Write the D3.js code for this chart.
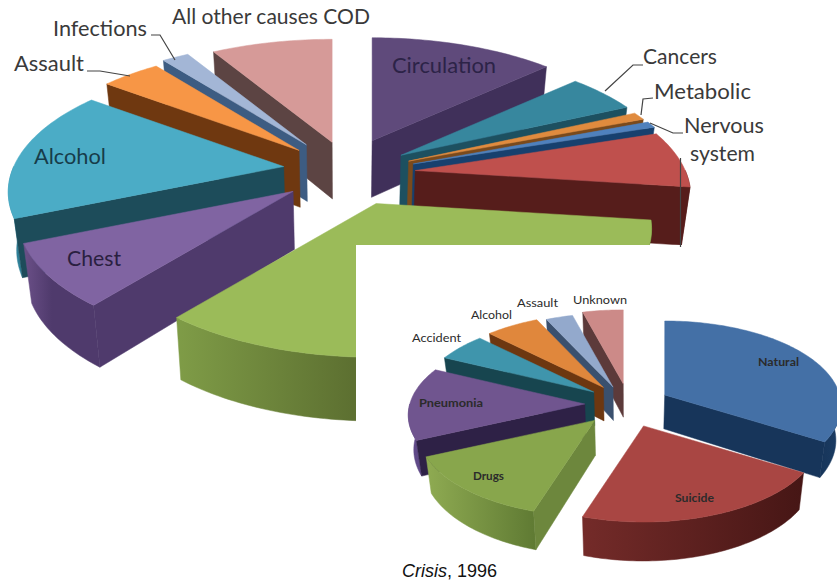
<!DOCTYPE html>
<html>
<head>
<meta charset="utf-8">
<script src="https://cdn.jsdelivr.net/npm/d3@7"></script>
<style>
  html, body { margin: 0; padding: 0; background: #fff; overflow: hidden; }
  svg { display: block; }
  .outer-label { font-family: Lato, sans-serif; fill: #3a3a3a; }
  .inset-label { font-family: Lato, sans-serif; fill: #2b2b2b; }
  .leader { fill: none; stroke: #444; stroke-width: 1.2; }
  .caption { font-family: "Liberation Sans", Arial, sans-serif; font-size: 18px; fill: #111; }
</style>
</head>
<body>
<div id="chart"></div>
<script>
// main pie, slice shares in percent (red and green have no label there)
const mainCategories = ["Circulation", "Cancers", "Metabolic", "Nervous system", "(red)", "(green)", "Chest", "Alcohol", "Assault", "Infections", "All other causes COD"];
const mainValues = [13.1, 5, 1, 0.8, 7.2, 33.7, 7.9, 16.7, 4.2, 1.9, 8.6];

// inset pie
const insetCategories = ["Natural", "Suicide", "Drugs", "Pneumonia", "Accident", "Alcohol", "Assault", "Unknown"];
const insetValues = [33.8, 21.2, 13.3, 13.9, 5.3, 5.6, 2.8, 4.2];

// how far each slice is pulled out of the pie and in which direction (degrees, 0 = back)
const mainExplode = [0.27, 0.245, 0.25, 0.26, 0.26, 0.28, 0.25, 0.23, 0.24, 0.26, 0.24];
const mainExplodeDir = [23, 60, 73, 79, 91, 157, 228, 277, 313, 325, 348];
const insetExplode = [0.22, 0.31, 0.30, 0.25, 0.22, 0.21, 0.18, 0.20];
const insetExplodeDir = [74, 164, 218, 259, 296, 317, 331, 352];

// slice colours: top face, flat side wall, curved rim from left to right
const mainTop = ["#5f4a7b", "#37879e", "#e08b3e", "#4f81bd", "#bf504d", "#9bbb59", "#8064a2", "#4bacc6", "#f79646", "#a3b6d6", "#d69a98"];
const mainWall = ["#40305a", "#1d5060", "#7a4a1c", "#17406e", "#561d1b", "#5f7534", "#4f3a6c", "#1d4c5a", "#6f3810", "#3d5c82", "#5c4443"];
const mainRimL = ["#40305a", "#1d5060", "#7a4a1c", "#17406e", "#5c1f1d", "#7f9c47", "#6b5088", "#3a9ab5", "#6f3810", "#3d5c82", "#5c4443"];
const mainRimR = ["#40305a", "#1d5060", "#7a4a1c", "#17406e", "#561d1b", "#5d7031", "#4f3a6c", "#2f8098", "#6f3810", "#3d5c82", "#5c4443"];

const insetTop = ["#4470a6", "#a94643", "#88a64c", "#70558f", "#3f95ac", "#e0873c", "#93a9cc", "#cc8a88"];
const insetWall = ["#17355a", "#4a1716", "#6d873d", "#2e2146", "#17454f", "#6d3710", "#3a506e", "#5c3a3a"];
const insetRimL = ["#17355a", "#742b29", "#8fab52", "#604a88", "#17454f", "#6d3710", "#3a506e", "#5c3a3a"];
const insetRimR = ["#1b3c63", "#461615", "#5f7a33", "#604a88", "#17454f", "#6d3710", "#3a506e", "#5c3a3a"];

// text around the pies
const mainLabelText = ["All other causes COD", "Infections", "Assault", "Alcohol", "Chest", "Circulation", "Cancers", "Metabolic", "Nervous", "system"];
const insetLabelText = ["Natural", "Suicide", "Drugs", "Pneumonia", "Accident", "Alcohol", "Assault", "Unknown"];

const width = 837, height = 587;

// geometry of each pie: centre, radii, perspective, thickness and how it changes towards the viewer
const mainPie = {cx: 345, cy: 170, rx: 270, ry: 123.4, k: 0.198, depth: 57.5, grow: 0.07, shrink: 0.025, rimEnd: "37%"};
const insetPie = {cx: 628, cy: 400, rx: 175, ry: 83.6, k: 0.13, depth: 34, grow: 0.1, shrink: 0.025, rimEnd: "100%"};

// label placement: x, baseline, width, colour
const mainLabelPos = [
  [172, 24, 198, "#3a3a3a"], [53, 36, 94, "#3a3a3a"], [14, 71, 70, "#3a3a3a"],
  [34, 164, 72, "#173c4a"], [67, 266, 54, "#2a1f40"], [392, 73, 104, "#2c2347"],
  [643, 64, 74, "#3a3a3a"], [654, 99, 97, "#3a3a3a"], [684, 133, 80, "#3a3a3a"], [690, 161, 65, "#3a3a3a"]
];
const insetLabelPos = [
  [758, 366, 41, true], [675, 502, 39, true], [473, 480, 31, true], [419, 407, 64, true],
  [412, 342, 49, false], [471, 319, 41, false], [517, 307, 41, false], [573, 304, 54, false]
];

// leader lines from the labels to their slices
const leaderLines = [
  [[151, 35], [160, 35], [175, 60]],
  [[87, 71], [100, 71], [130, 76]],
  [[643, 65], [633, 65], [605, 91]],
  [[653, 98], [643, 99], [641, 115]],
  [[683, 133], [673, 133], [650, 123]],
  [[680.5, 158], [680.5, 247]]
];

const svg = d3.select("#chart").append("svg")
  .attr("width", width)
  .attr("height", height);
const defs = svg.append("defs");
const pathLine = d3.line();

drawPie("main", mainPie, mainValues, mainExplode, mainExplodeDir, mainTop, mainWall, mainRimL, mainRimR);

// the inset hides the lower right of the big pie
svg.append("rect")
  .attr("x", 356)
  .attr("y", 245)
  .attr("width", width - 356)
  .attr("height", height - 245)
  .attr("fill", "#fff");

drawPie("inset", insetPie, insetValues, insetExplode, insetExplodeDir, insetTop, insetWall, insetRimL, insetRimR);
drawLeaders();
drawLabels();
drawCaption();

/**
 * Perspective projection of a point on the unit disc (u to the right, v towards the viewer)
 */
function project(geo, u, v) {
  const s = 1 / (1 - geo.k * v);
  return [geo.rx * u * s, geo.ry * v * s];
}

function discPoint(geo, angle) {
  return project(geo, Math.sin(angle), -Math.cos(angle));
}

function drawPie(id, geo, values, explode, explodeDir, topColors, wallColors, rimLeft, rimRight) {
  const arcs = d3.pie().sort(null).value(d => d)(values);

  const slices = arcs.map(function(a, i) {
    const dir = explodeDir[i] * Math.PI / 180;
    const off = project(geo, explode[i] * Math.sin(dir), -explode[i] * Math.cos(dir));
    return {
      i: i,
      start: a.startAngle,
      end: a.endAngle,
      apex: [geo.cx + off[0], geo.cy + off[1]],
      order: -Math.cos((a.startAngle + a.endAngle) / 2)
    };
  });

  // back slices first, front slices paint over them
  slices.sort((a, b) => a.order - b.order);

  const g = svg.append("g").attr("class", "pie-" + id);
  slices.forEach(function(s) {
    const grad = defs.append("linearGradient")
      .attr("id", id + "-rim-" + s.i);
    grad.append("stop").attr("offset", "0%").attr("stop-color", rimLeft[s.i]);
    grad.append("stop").attr("offset", geo.rimEnd).attr("stop-color", rimRight[s.i]);

    const rimAt = a => {
      const p = discPoint(geo, a);
      return [s.apex[0] + p[0], s.apex[1] + p[1]];
    };
    // the underside is a little narrower than the top
    const down = p => [
      p[0] + geo.shrink * (geo.cx - p[0]),
      p[1] + geo.depth * (1 + geo.grow * (p[1] - geo.cy) / geo.ry)
    ];

    // curved rim, only the part that faces the viewer
    const from = Math.max(s.start, Math.PI / 2), to = Math.min(s.end, Math.PI * 1.5);
    if (to > from) {
      const rim = sampleAngles(from, to).map(rimAt);
      g.append("path")
        .attr("d", pathLine(rim.concat(rim.map(down).reverse())) + "Z")
        .attr("fill", "url(#" + id + "-rim-" + s.i + ")")
        .attr("stroke", "url(#" + id + "-rim-" + s.i + ")")
        .attr("stroke-width", 0.5);
    }

    // flat walls, only when turned to the viewer
    [[s.start, s.start - Math.PI / 2], [s.end, s.end + Math.PI / 2]].forEach(function(w) {
      if (-Math.cos(w[1]) <= 0.01) return;
      const outer = rimAt(w[0]);
      g.append("path")
        .attr("d", pathLine([s.apex, outer, down(outer), down(s.apex)]) + "Z")
        .attr("fill", wallColors[s.i])
        .attr("stroke", wallColors[s.i])
        .attr("stroke-width", 0.5);
    });

    // top face
    g.append("path")
      .attr("d", pathLine([s.apex].concat(sampleAngles(s.start, s.end).map(rimAt))) + "Z")
      .attr("fill", topColors[s.i])
      .attr("stroke", topColors[s.i])
      .attr("stroke-width", 0.5);
  });
}

function sampleAngles(from, to) {
  const n = Math.max(2, Math.ceil((to - from) / 0.02));
  return d3.range(n + 1).map(i => from + (to - from) * i / n);
}

function drawLeaders() {
  svg.selectAll("path.leader")
    .data(leaderLines)
    .enter().append("path")
    .attr("class", "leader")
    .attr("d", d => pathLine(d));
}

function drawLabels() {
  svg.selectAll("text.outer-label")
    .data(mainLabelText)
    .enter().append("text")
    .attr("class", "outer-label")
    .attr("x", (d, i) => mainLabelPos[i][0])
    .attr("y", (d, i) => mainLabelPos[i][1])
    .attr("textLength", (d, i) => mainLabelPos[i][2])
    .attr("lengthAdjust", "spacingAndGlyphs")
    .style("font-size", "21px")
    .style("fill", (d, i) => mainLabelPos[i][3])
    .text(d => d);

  svg.selectAll("text.inset-label")
    .data(insetLabelText)
    .enter().append("text")
    .attr("class", "inset-label")
    .attr("x", (d, i) => insetLabelPos[i][0])
    .attr("y", (d, i) => insetLabelPos[i][1])
    .attr("textLength", (d, i) => insetLabelPos[i][2])
    .attr("lengthAdjust", "spacingAndGlyphs")
    .style("font-size", "12px")
    .style("font-weight", (d, i) => insetLabelPos[i][3] ? "bold" : "normal")
    .text(d => d);
}

function drawCaption() {
  const caption = svg.append("text")
    .attr("class", "caption")
    .attr("x", 402)
    .attr("y", 577);
  caption.append("tspan").style("font-style", "italic").text("Crisis");
  caption.append("tspan").text(", 1996");
}
</script>
</body>
</html>
